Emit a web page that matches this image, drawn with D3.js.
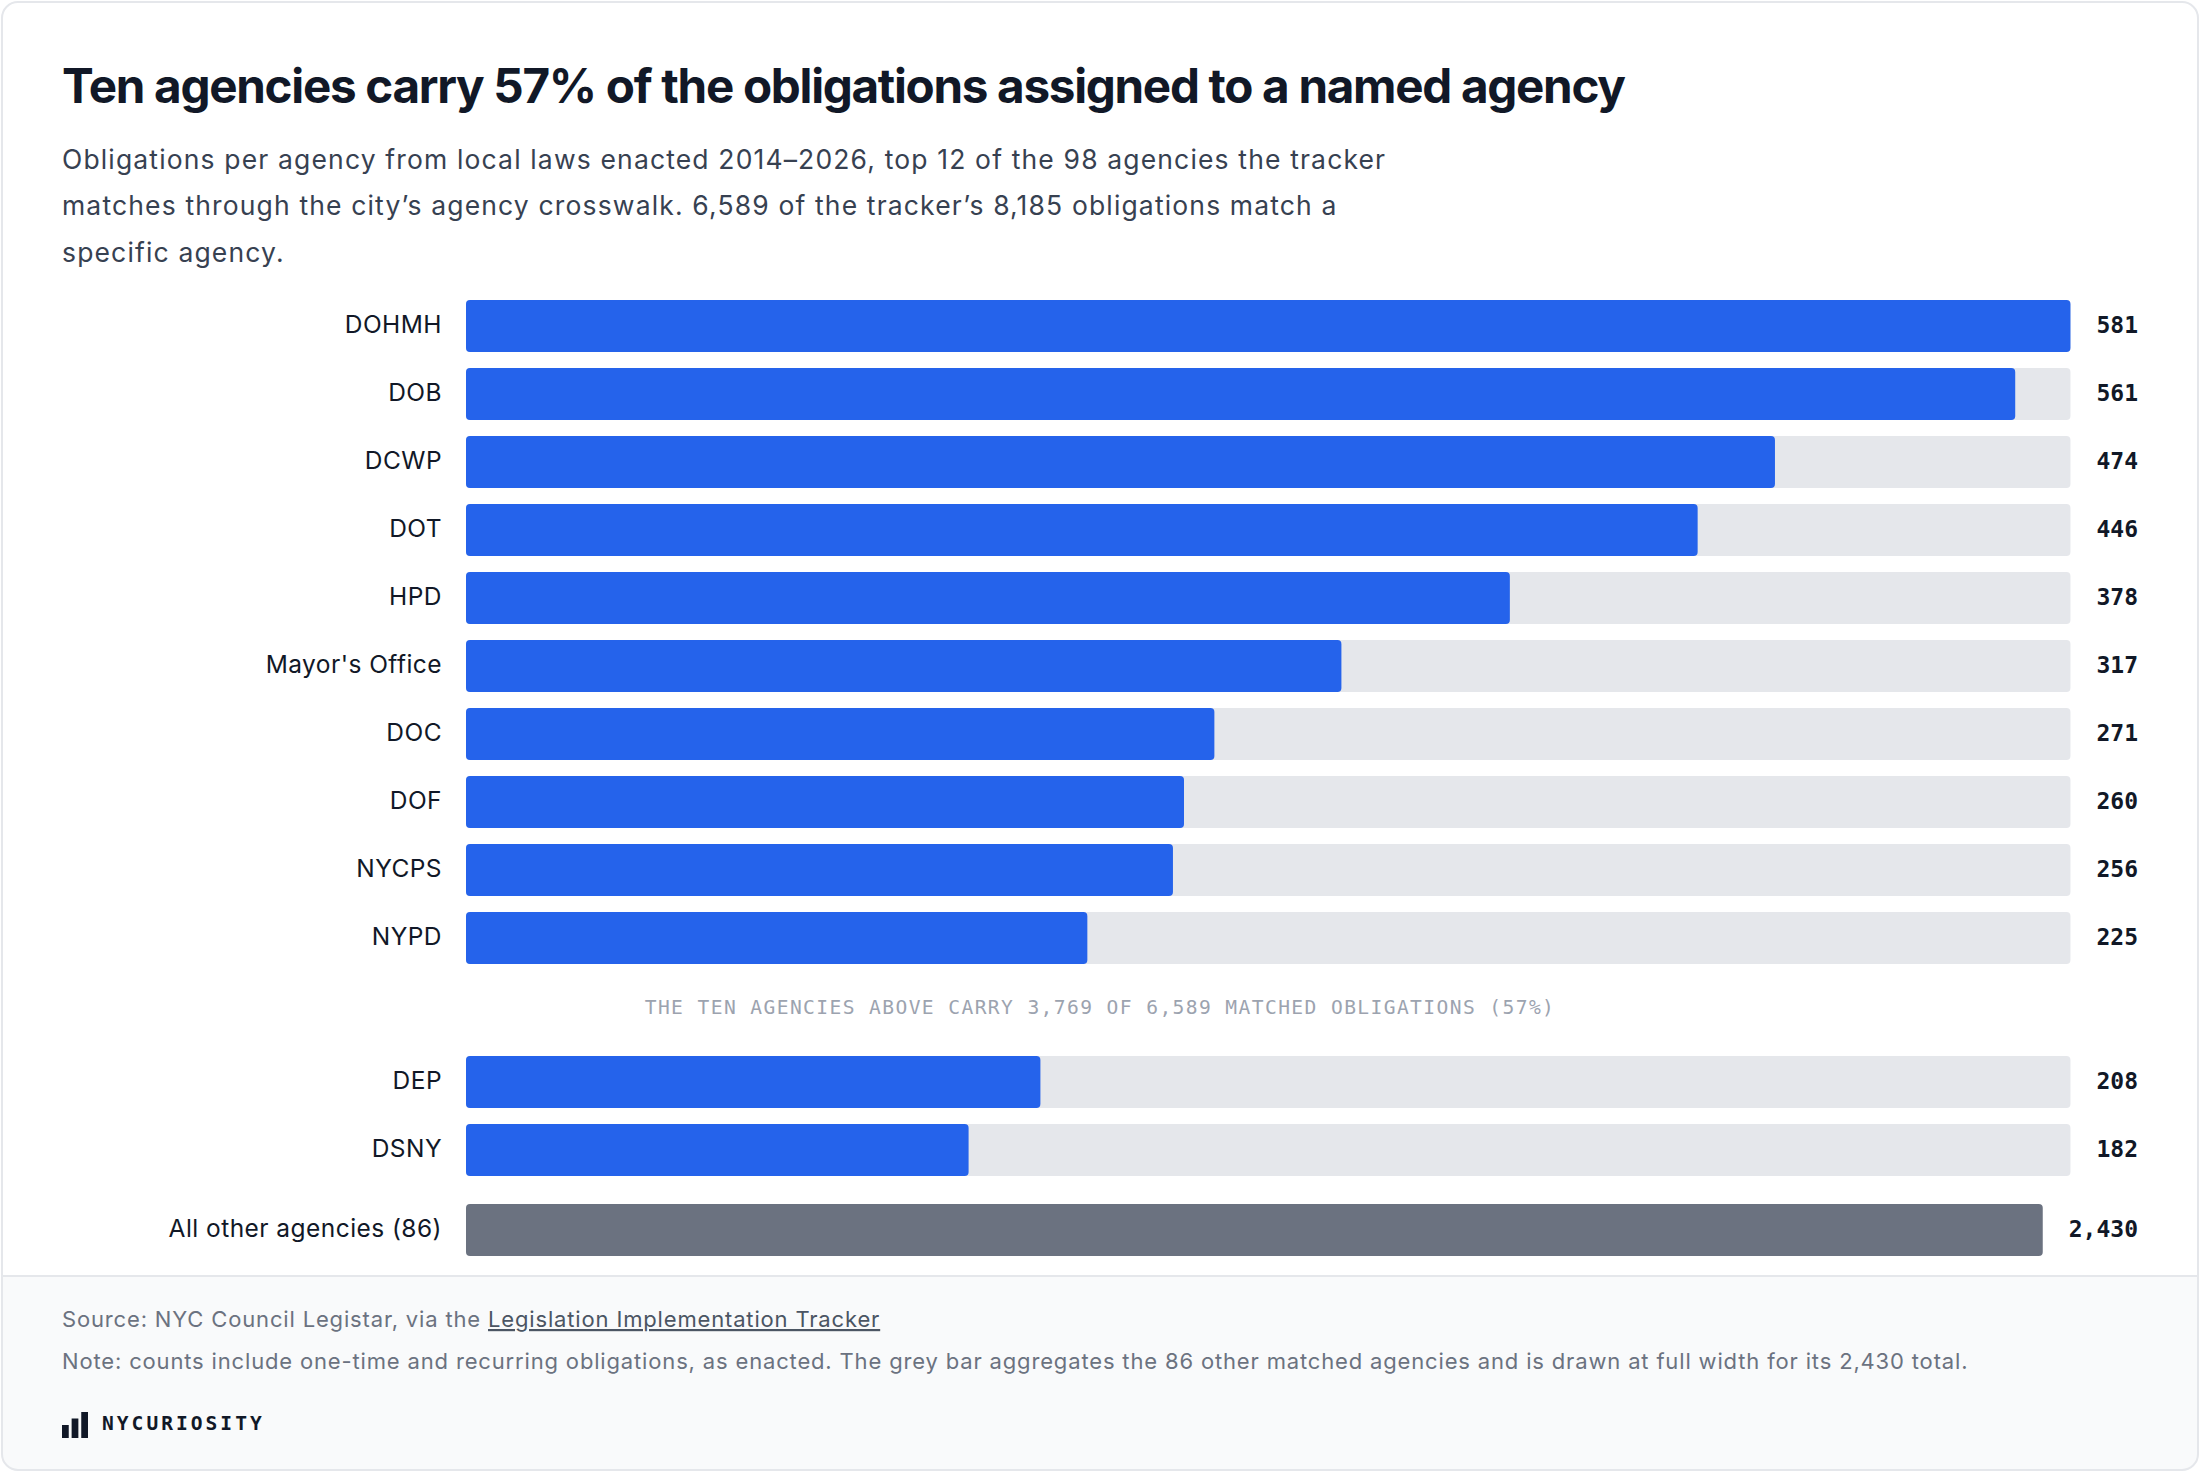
<!DOCTYPE html>
<html>
<head>
<meta charset="utf-8">
<title>Obligations per agency</title>
<script src="https://d3js.org/d3.v7.min.js"></script>
<style>
  html, body { margin: 0; background: #fff; }
  svg { display: block; }
  .sans { font-family: Inter, "Noto Sans", sans-serif; }
  .mono { font-family: "DejaVu Sans Mono", monospace; }
</style>
</head>
<body>
<svg id="chart" width="2200" height="1472"></svg>
<script>
// top ten agencies by matched obligations
const topAgencies = ["DOHMH", "DOB", "DCWP", "DOT", "HPD", "Mayor's Office", "DOC", "DOF", "NYCPS", "NYPD"];
const topCounts = [581, 561, 474, 446, 378, 317, 271, 260, 256, 225];

// the two after them
const nextAgencies = ["DEP", "DSNY"];
const nextCounts = [208, 182];

// the rest, rolled into one bar
const otherLabel = "All other agencies (86)";
const otherCount = 2430;

const title = "Ten agencies carry 57% of the obligations assigned to a named agency";
const subtitleLines = [
  "Obligations per agency from local laws enacted 2014\u20132026, top 12 of the 98 agencies the tracker",
  "matches through the city\u2019s agency crosswalk. 6,589 of the tracker\u2019s 8,185 obligations match a",
  "specific agency."
];
const annotation = "THE TEN AGENCIES ABOVE CARRY 3,769 OF 6,589 MATCHED OBLIGATIONS (57%)";
const sourceText = "Source: NYC Council Legistar, via the ";
const sourceLink = "Legislation Implementation Tracker";
const noteText = "Note: counts include one-time and recurring obligations, as enacted. The grey bar aggregates the 86 other matched agencies and is drawn at full width for its 2,430 total.";
const brand = "NYCURIOSITY";
const brandBars = [0.5, 0.75, 1];

const W = 2200, H = 1472;
const footerTop = 1276;
const labelRight = 442, barLeft = 466, valueRight = 2138, valueGap = 26;
const rowStep = 68, barH = 52;
const fmt = d3.format(",");

const svg = d3.select("#chart");

// ---------- card ----------
svg.append("clipPath").attr("id", "card-clip")
  .append("rect").attr("x", 2).attr("y", 2).attr("width", W - 4).attr("height", H - 4).attr("rx", 16);

svg.append("rect")
  .attr("x", 2).attr("y", 2).attr("width", W - 4).attr("height", H - 4).attr("rx", 16)
  .attr("fill", "#fff");

svg.append("rect")
  .attr("clip-path", "url(#card-clip)")
  .attr("x", 0).attr("y", footerTop).attr("width", W).attr("height", H - footerTop)
  .attr("fill", "#f9fafb");

svg.append("line")
  .attr("x1", 2).attr("x2", W - 2).attr("y1", footerTop).attr("y2", footerTop)
  .attr("stroke", "#e5e7eb").attr("stroke-width", 2);

svg.append("rect")
  .attr("x", 2).attr("y", 2).attr("width", W - 4).attr("height", H - 4).attr("rx", 16)
  .attr("fill", "none").attr("stroke", "#e5e7eb").attr("stroke-width", 2);

// ---------- header ----------
svg.append("text")
  .attr("class", "sans")
  .attr("x", 62).attr("y", 103)
  .attr("font-size", 47.6).attr("font-weight", 700)
  .attr("letter-spacing", -1.3)
  .attr("fill", "#111827")
  .text(title);

svg.append("text")
  .attr("class", "sans")
  .attr("font-size", 26.5)
  .attr("letter-spacing", 1.15)
  .attr("fill", "#374151")
  .selectAll("tspan")
  .data(subtitleLines)
  .join("tspan")
  .attr("x", 62)
  .attr("y", (d, i) => 169 + i * 46.3)
  .text(d => d);

// ---------- scales ----------
const measure = svg.append("text").attr("class", "mono")
  .attr("font-size", 23).attr("font-weight", 700);
function valueWidth(v) {
  measure.text(fmt(v));
  return measure.node().getComputedTextLength();
}
const blueLabelW = d3.max(topCounts.concat(nextCounts), valueWidth);
const otherLabelW = valueWidth(otherCount);
measure.remove();

const maxCount = d3.max(topCounts.concat(nextCounts));
const x = d3.scaleLinear()
  .domain([0, maxCount])
  .range([barLeft, valueRight - blueLabelW - valueGap]);

const xOther = d3.scaleLinear()
  .domain([0, otherCount])
  .range([barLeft, valueRight - otherLabelW - valueGap]);

const pad = (rowStep - barH) / rowStep;
const yTop = d3.scaleBand()
  .domain(topAgencies)
  .range([300, 300 + topAgencies.length * rowStep - (rowStep - barH)])
  .paddingInner(pad);

const yNext = d3.scaleBand()
  .domain(nextAgencies)
  .range([1056, 1056 + nextAgencies.length * rowStep - (rowStep - barH)])
  .paddingInner(pad);

const yOther = d3.scaleBand()
  .domain([otherLabel])
  .range([1204, 1204 + barH]);

// ---------- rows ----------
function rowLabel(sel) {
  sel.attr("class", "sans")
    .attr("x", labelRight).attr("dy", "0.3em")
    .attr("text-anchor", "end").attr("font-size", 24.5)
    .attr("letter-spacing", 0.45).attr("fill", "#111827");
}
function valueLabel(sel) {
  sel.attr("class", "mono")
    .attr("x", valueRight).attr("dy", "0.32em")
    .attr("text-anchor", "end").attr("font-size", 23).attr("font-weight", 700)
    .attr("fill", "#111827");
}

function drawGroup(names, counts, y, cls) {
  const rows = names.map((n, i) => ({ name: n, value: counts[i] }));
  const g = svg.append("g").attr("class", cls);
  const row = g.selectAll("g").data(rows).join("g")
    .attr("transform", d => `translate(0,${y(d.name)})`);

  row.append("rect")
    .attr("x", x(0)).attr("width", x(maxCount) - x(0))
    .attr("height", y.bandwidth()).attr("rx", 4)
    .attr("fill", "#e5e7eb");

  row.append("rect")
    .attr("x", x(0)).attr("width", d => x(d.value) - x(0))
    .attr("height", y.bandwidth()).attr("rx", 4)
    .attr("fill", "#2563eb");

  row.append("text").call(rowLabel)
    .attr("y", y.bandwidth() / 2)
    .text(d => d.name);

  row.append("text").call(valueLabel)
    .attr("y", y.bandwidth() / 2)
    .text(d => fmt(d.value));
}

drawGroup(topAgencies, topCounts, yTop, "top");
drawGroup(nextAgencies, nextCounts, yNext, "next");

// divider note between the groups
const noteY = (yTop(topAgencies[topAgencies.length - 1]) + yTop.bandwidth() + yNext(nextAgencies[0])) / 2;
svg.append("text")
  .attr("class", "mono")
  .attr("x", W / 2).attr("y", noteY).attr("dy", "0.2em")
  .attr("text-anchor", "middle")
  .attr("font-size", 19.6).attr("letter-spacing", 1.4)
  .attr("fill", "#9ca3af")
  .text(annotation);

// grey aggregate bar
const og = svg.append("g").attr("transform", `translate(0,${yOther(otherLabel)})`);
og.append("rect")
  .attr("x", xOther(0)).attr("width", xOther(otherCount) - xOther(0))
  .attr("height", yOther.bandwidth()).attr("rx", 4)
  .attr("fill", "#6b7280");
og.append("text").call(rowLabel)
  .attr("y", yOther.bandwidth() / 2)
  .text(otherLabel);
og.append("text").call(valueLabel)
  .attr("y", yOther.bandwidth() / 2)
  .text(fmt(otherCount));

// ---------- footer ----------
const src = svg.append("text")
  .attr("class", "sans")
  .attr("x", 62).attr("y", 1327)
  .attr("font-size", 22).attr("letter-spacing", 0.84)
  .attr("fill", "#6b7280");
src.append("tspan").text(sourceText);
src.append("tspan")
  .attr("fill", "#4b5563")
  .attr("text-decoration", "underline")
  .text(sourceLink);

svg.append("text")
  .attr("class", "sans")
  .attr("x", 62).attr("y", 1369)
  .attr("font-size", 22).attr("letter-spacing", 0.84)
  .attr("fill", "#6b7280")
  .text(noteText);

// brand mark
const bx = d3.scaleBand().domain(d3.range(brandBars.length)).range([62, 88]).paddingInner(0.3);
const bh = d3.scaleLinear().domain([0, 1]).range([0, 26]);
svg.append("g").selectAll("rect").data(brandBars).join("rect")
  .attr("x", (d, i) => bx(i)).attr("width", bx.bandwidth())
  .attr("y", d => 1438 - bh(d)).attr("height", d => bh(d))
  .attr("fill", "#111827");

svg.append("text")
  .attr("class", "mono")
  .attr("x", 102).attr("y", 1430)
  .attr("font-size", 19.6).attr("font-weight", 700)
  .attr("letter-spacing", 3)
  .attr("fill", "#111827")
  .text(brand);
</script>
</body>
</html>
